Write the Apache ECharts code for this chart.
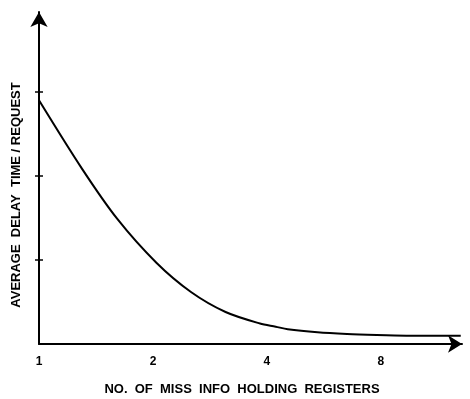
<!DOCTYPE html>
<html><head><meta charset="utf-8">
<script src="https://cdn.jsdelivr.net/npm/echarts@6/dist/echarts.min.js"></script>
<style>html,body{margin:0;padding:0;background:#fff}#c{width:470px;height:399px}</style>
</head><body><div id="c"></div>
<script>
// Number of miss info holding registers (x) and average delay time per request (y, in tick units)
const registers = [1, 1.297, 1.61, 2.042, 2.52, 3.11, 3.835, 4.22, 4.54, 5.44, 6.51, 7.80, 9.34, 13.0];
const delay     = [2.90, 2.09, 1.488, 0.967, 0.619, 0.381, 0.244, 0.206, 0.175, 0.139, 0.119, 0.107, 0.099, 0.097];
const xTickLabels = ['1', '2', '4', '8'];
const yTickValues = [1, 2, 3];
const xTitle = 'NO.  OF  MISS  INFO  HOLDING  REGISTERS';
const yTitle = 'AVERAGE  DELAY  TIME / REQUEST';

const font = '"Liberation Sans", Arial, sans-serif';
const chart = echarts.init(document.getElementById('c'), null, {renderer: 'canvas'});
const yBase = {
  type: 'value', min: 0, max: 3.95, position: 'left', offset: 0,
  splitLine: {show: false}, axisLabel: {show: false}
};
chart.setOption({
  animation: false,
  grid: {left: 39, right: 8, top: 12, bottom: 55, containLabel: false},
  xAxis: {
    type: 'log', logBase: 2, min: 1, max: 13.1, splitNumber: 3,
    axisLine: {show: true, onZero: false, lineStyle: {color: '#000', width: 2},
      symbol: ['none', 'arrow'], symbolSize: [13, 14]},
    axisTick: {show: false}, splitLine: {show: false},
    axisLabel: {color: '#000', fontFamily: font, fontWeight: 'bold', fontSize: 12, margin: 12,
      showMaxLabel: false,
      formatter: v => xTickLabels.includes(String(Math.round(v * 1000) / 1000)) ? String(Math.round(v)) : ''}
  },
  yAxis: [
    Object.assign({}, yBase, {
      axisLine: {show: true, onZero: false, lineStyle: {color: '#000', width: 2},
        symbol: ['none', 'arrow'], symbolSize: [13, 15]},
      axisTick: {show: true, inside: false, length: 4, customValues: yTickValues,
        lineStyle: {color: '#000', width: 1.5}}
    }),
    Object.assign({}, yBase, {
      axisLine: {show: false},
      axisTick: {show: true, inside: true, length: 4, customValues: yTickValues,
        lineStyle: {color: '#000', width: 1.5}}
    })
  ],
  graphic: [
    {type: 'text', x: 242, y: 389, style: {text: xTitle, fill: '#000', font: 'bold 13px ' + font,
      textAlign: 'center', textVerticalAlign: 'middle'}},
    {type: 'text', x: 16, y: 195, rotation: Math.PI / 2, style: {text: yTitle, fill: '#000',
      font: 'bold 13px ' + font, textAlign: 'center', textVerticalAlign: 'middle'}}
  ],
  series: [{
    type: 'line', xAxisIndex: 0, yAxisIndex: 0,
    data: registers.map((x, i) => [x, delay[i]]),
    smooth: 0.3, showSymbol: false,
    lineStyle: {color: '#000', width: 2}
  }]
});
</script></body></html>
